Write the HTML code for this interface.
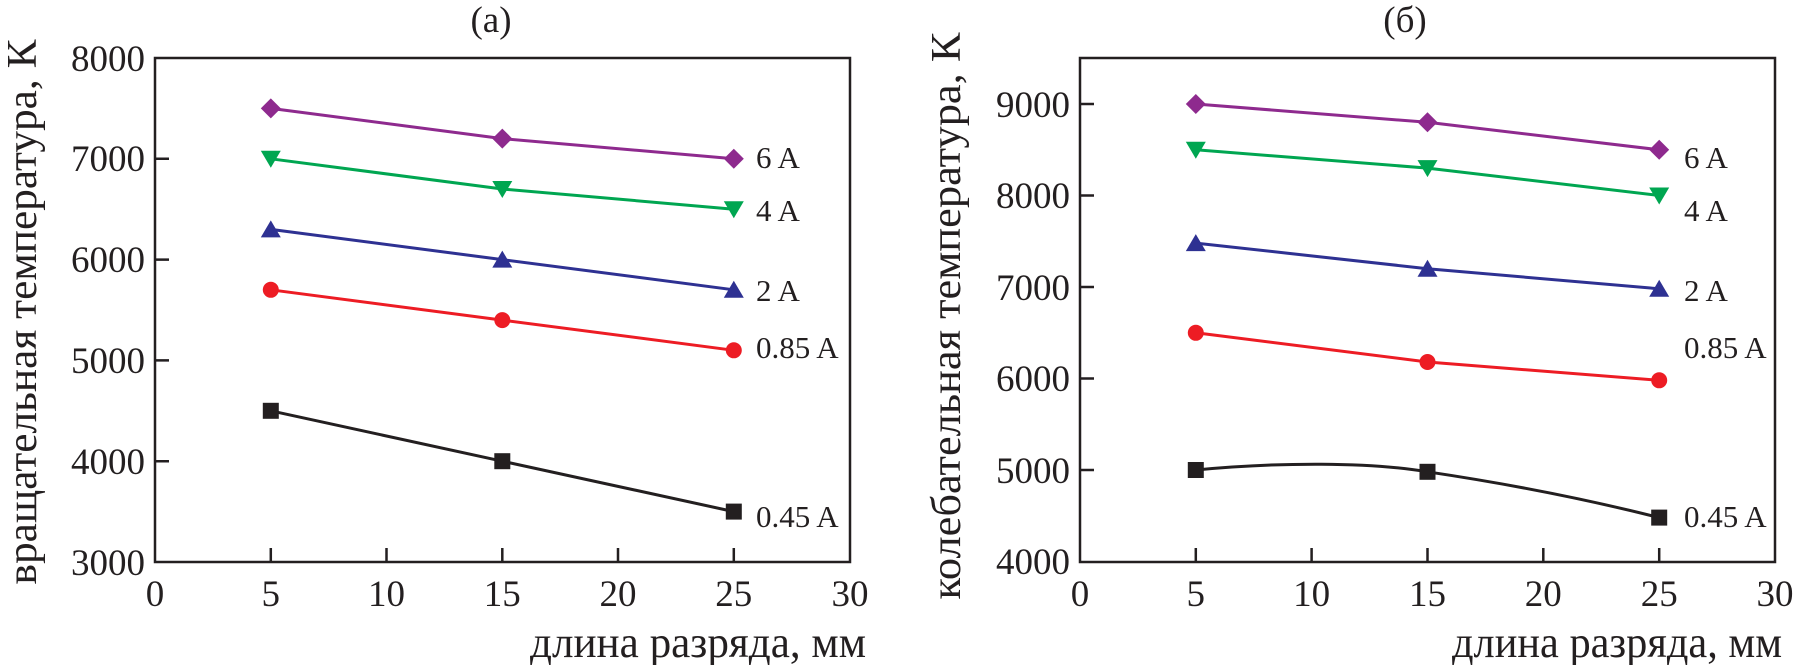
<!DOCTYPE html>
<html><head><meta charset="utf-8"><style>html,body{margin:0;padding:0;background:#fff}svg{display:block}</style></head><body>
<svg width="1794" height="665" viewBox="0 0 1794 665" xmlns="http://www.w3.org/2000/svg" font-family="Liberation Serif, serif" fill="#231f20">
<defs>
<path id="dia" d="M0,-10 L10,0 L0,10 L-10,0Z"/>
<path id="tdn" d="M-10,-8 L10,-8 L0,9Z"/>
<path id="tup" d="M-10,8 L10,8 L0,-9Z"/>
<rect id="sq" x="-8" y="-8" width="16" height="16"/>
</defs>
<g stroke="#231f20" stroke-width="2.5" fill="none">
<rect x="155" y="58" width="695" height="504"/>
<path d="M155,461.2h14M155,360.4h14M155,259.6h14M155,158.8h14M270.8,562v-14M386.5,562v-14M502.3,562v-14M618,562v-14M733.8,562v-14"/>
<rect x="1080" y="58" width="695" height="504"/>
<path d="M1080,470h14M1080,378.5h14M1080,287h14M1080,195.5h14M1080,104h14M1195.8,562v-14M1311.6,562v-14M1427.5,562v-14M1543.3,562v-14M1659.2,562v-14"/>
</g>
<g font-size="37" text-anchor="end">
<text x="145" y="71">8000</text><text x="145" y="171">7000</text><text x="145" y="272">6000</text><text x="145" y="373">5000</text><text x="145" y="474">4000</text><text x="145" y="575">3000</text>
<text x="1070" y="117">9000</text><text x="1070" y="208">8000</text><text x="1070" y="300">7000</text><text x="1070" y="391">6000</text><text x="1070" y="483">5000</text><text x="1070" y="574">4000</text>
</g>
<g font-size="37" text-anchor="middle">
<text x="155" y="606">0</text><text x="270.8" y="606">5</text><text x="386.5" y="606">10</text><text x="502.3" y="606">15</text><text x="618" y="606">20</text><text x="733.8" y="606">25</text><text x="850" y="606">30</text>
<text x="1080" y="606">0</text><text x="1195.8" y="606">5</text><text x="1311.6" y="606">10</text><text x="1427.5" y="606">15</text><text x="1543.3" y="606">20</text><text x="1659.2" y="606">25</text><text x="1775" y="606">30</text>
<text x="491" y="32">(a)</text><text x="1405" y="32">(б)</text>
</g>
<g font-size="44">
<text x="530" y="657" textLength="336" lengthAdjust="spacingAndGlyphs">длина разряда, мм</text>
<text x="1452" y="657" textLength="330" lengthAdjust="spacingAndGlyphs">длина разряда, мм</text>
</g>
<text font-size="42" text-anchor="middle" transform="translate(36,312) rotate(-90)" textLength="545" lengthAdjust="spacingAndGlyphs">вращательная температура, К</text>
<text font-size="42" text-anchor="middle" transform="translate(960,316) rotate(-90)" textLength="567" lengthAdjust="spacingAndGlyphs">колебательная температура, К</text>
<g fill="none" stroke-width="3">
<polyline stroke="#8e2a8e" points="270.8,108.4 502.3,138.6 733.8,158.8"/>
<polyline stroke="#00a651" points="270.8,158.8 502.3,189 733.8,209.2"/>
<polyline stroke="#2e3192" points="270.8,229.4 502.3,259.6 733.8,289.8"/>
<polyline stroke="#ed1c24" points="270.8,289.8 502.3,320.1 733.8,350.3"/>
<polyline stroke="#231f20" points="270.8,410.8 502.3,461.2 733.8,511.6"/>
<polyline stroke="#8e2a8e" points="1195.8,104 1427.5,122.3 1659.2,149.8"/>
<polyline stroke="#00a651" points="1195.8,149.8 1427.5,168.1 1659.2,195.5"/>
<polyline stroke="#2e3192" points="1195.8,243.1 1427.5,268.7 1659.2,288.8"/>
<polyline stroke="#ed1c24" points="1195.8,332.8 1427.5,362 1659.2,380.3"/>
<path stroke="#231f20" d="M1195.8,470 C1280,462 1370,462 1427.5,471.8 Q1550,490 1659.2,517.6"/>
</g>
<g fill="#8e2a8e"><use href="#dia" x="270.8" y="108.4"/><use href="#dia" x="502.3" y="138.6"/><use href="#dia" x="733.8" y="158.8"/><use href="#dia" x="1195.8" y="104"/><use href="#dia" x="1427.5" y="122.3"/><use href="#dia" x="1659.2" y="149.8"/></g>
<g fill="#00a651"><use href="#tdn" x="270.8" y="158.8"/><use href="#tdn" x="502.3" y="189"/><use href="#tdn" x="733.8" y="209.2"/><use href="#tdn" x="1195.8" y="149.8"/><use href="#tdn" x="1427.5" y="168.1"/><use href="#tdn" x="1659.2" y="195.5"/></g>
<g fill="#2e3192"><use href="#tup" x="270.8" y="229.4"/><use href="#tup" x="502.3" y="259.6"/><use href="#tup" x="733.8" y="289.8"/><use href="#tup" x="1195.8" y="243.1"/><use href="#tup" x="1427.5" y="268.7"/><use href="#tup" x="1659.2" y="288.8"/></g>
<g fill="#ed1c24"><circle cx="270.8" cy="289.8" r="8"/><circle cx="502.3" cy="320.1" r="8"/><circle cx="733.8" cy="350.3" r="8"/><circle cx="1195.8" cy="332.8" r="8"/><circle cx="1427.5" cy="362" r="8"/><circle cx="1659.2" cy="380.3" r="8"/></g>
<g fill="#231f20"><use href="#sq" x="270.8" y="410.8"/><use href="#sq" x="502.3" y="461.2"/><use href="#sq" x="733.8" y="511.6"/><use href="#sq" x="1195.8" y="470"/><use href="#sq" x="1427.5" y="471.8"/><use href="#sq" x="1659.2" y="517.6"/></g>
<g font-size="31">
<text x="756" y="168">6 A</text><text x="756" y="221">4 A</text><text x="756" y="301">2 A</text><text x="756" y="358">0.85 A</text><text x="756" y="527">0.45 A</text>
<text x="1684" y="168">6 A</text><text x="1684" y="221">4 A</text><text x="1684" y="301">2 A</text><text x="1684" y="358">0.85 A</text><text x="1684" y="527">0.45 A</text>
</g>
</svg>
</body></html>
